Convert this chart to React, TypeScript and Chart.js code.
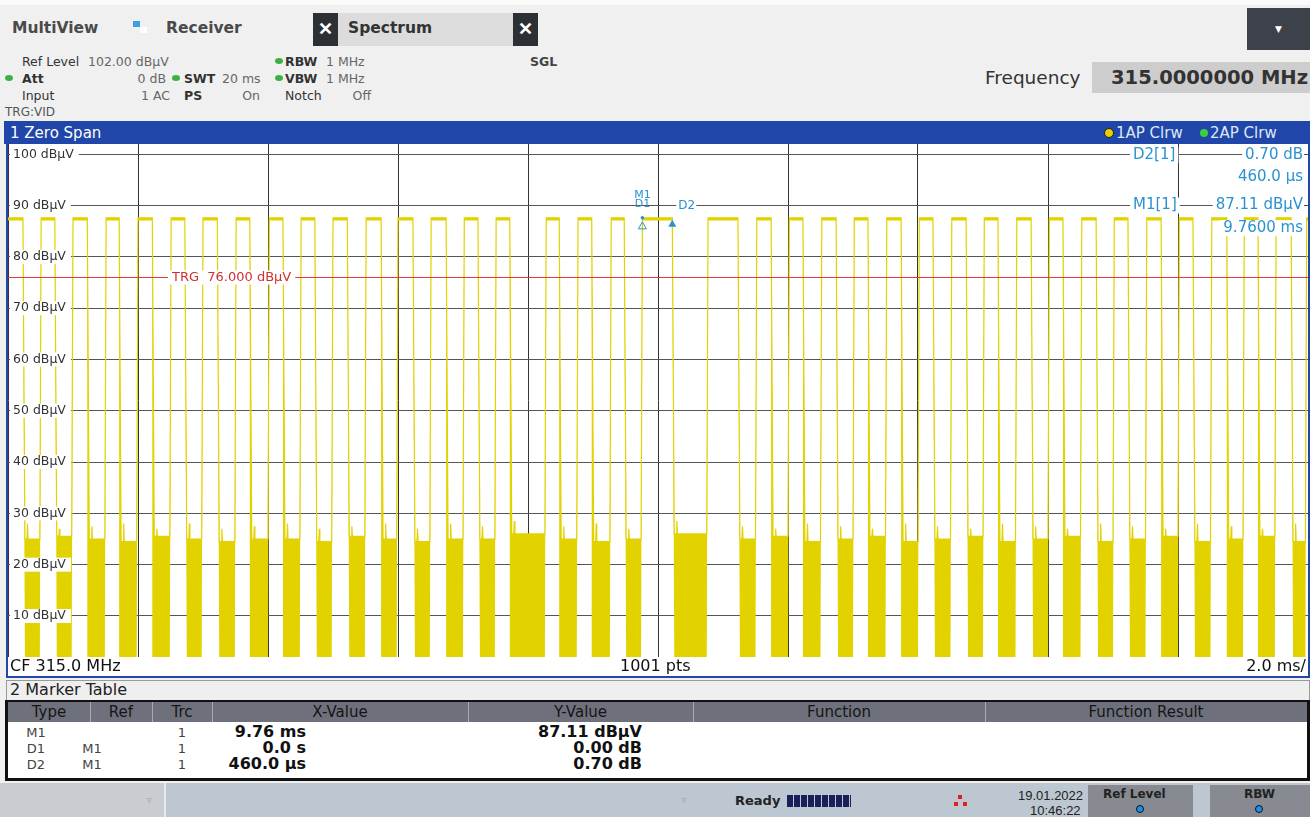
import React, { useEffect, useRef } from "react";
import { Chart, registerables } from "chart.js";

Chart.register(...registerables);

// ---------------- data ----------------
const sweepStartMs = 0;
const sweepStopMs = 20;
const refLevelDb = 102;
const bottomLevelDb = 2;
const sampleMs = 0.02; // 1001 pts over 20 ms

const xGridMs = [0, 2, 4, 6, 8, 10, 12, 14, 16, 18, 20];
const yGridDb = [100, 90, 80, 70, 60, 50, 40, 30, 20, 10];
const yTickLabels = ["100 dBµV", "90 dBµV", "80 dBµV", "70 dBµV", "60 dBµV", "50 dBµV", "40 dBµV", "30 dBµV", "20 dBµV", "10 dBµV"];

// pulse on / off times (ms)
const pulseStartMs = [0.0, 0.51, 1.0, 1.51, 2.0, 2.51, 3.0, 3.51, 4.02, 4.51, 5.0, 5.51, 6.0, 6.51, 7.02, 7.51, 8.28, 8.77, 9.28, 9.76, 10.77, 11.52, 12.02, 12.52, 13.02, 13.52, 14.02, 14.52, 15.02, 15.52, 16.02, 16.52, 17.02, 17.52, 18.02, 18.52, 19.02, 19.51, 19.98];
const pulseEndMs = [0.23, 0.72, 1.22, 1.71, 2.22, 2.72, 3.22, 3.72, 4.23, 4.72, 5.22, 5.74, 6.23, 6.74, 7.23, 7.72, 8.48, 8.98, 9.48, 10.22, 11.23, 11.74, 12.23, 12.74, 13.23, 13.74, 14.23, 14.74, 15.23, 15.74, 16.23, 16.74, 17.23, 17.74, 18.23, 18.75, 19.23, 19.74, 20.0];
// falling edges drawn as a full min/max column (1) or a thin line (0)
const pulseBoldFall = [0, 0, 1, 1, 1, 0, 0, 1, 1, 0, 0, 1, 0, 1, 0, 1, 1, 1, 0, 0, 0, 1, 1, 0, 1, 1, 0, 0, 1, 0, 1, 0, 0, 1, 0, 1, 1, 0, 0];
const pulseHighMaxDb = 87.6;
const pulseHighMinDb = 87.1;
// noise between pulses (auto peak max): plateau and spike, dBµV
const gapNoiseTopDb = [25, 25.5, 25, 24.5, 25.5, 25, 24.5, 25, 25, 24.5, 25.5, 25, 24.5, 25, 25, 26, 25, 24.5, 25, 26, 25, 25.5, 24.5, 25, 25.5, 24.5, 25, 25.5, 24.5, 25, 25.5, 24.5, 25, 25.5, 24.5, 25, 25.5, 24.5];
const gapNoisePeakDb = [28, 27, 27.5, 28, 27, 28, 27, 27.5, 28, 27, 27.5, 28, 27, 28, 27.5, 28.5, 27.5, 28, 27, 28.5, 27.5, 27, 28, 27.5, 27, 28, 27.5, 27, 28, 27.5, 27, 28, 27.5, 27, 28, 27.5, 27, 28];
const noiseFloorDb = 2;

const triggerDb = 76;
const markerM1 = { ms: 9.76, db: 87.11 };
const markerD2 = { ms: 10.22, db: 87.81 };

const TRACE = "#e2d200";
const MARK = "#2b92d2";
const UI = '"DejaVu Sans", Verdana, sans-serif';
const LS = '"Liberation Sans", Arial, sans-serif';
const VF = '"DejaVu Sans", Verdana, sans-serif';

function buildTrace() {
  const maxPts: { x: number; y: number }[] = [];
  const minPts: { x: number; y: number }[] = [];
  for (let i = 0; i < pulseStartMs.length; i++) {
    const s = pulseStartMs[i];
    const e = pulseEndMs[i];
    maxPts.push({ x: s, y: pulseHighMaxDb });
    minPts.push({ x: s, y: pulseHighMinDb });
    maxPts.push({ x: e, y: pulseHighMaxDb });
    minPts.push({ x: e, y: pulseHighMinDb });
    if (pulseBoldFall[i]) minPts.push({ x: e, y: noiseFloorDb });
    if (i < gapNoiseTopDb.length) {
      const g0 = e + sampleMs * 1.5;
      const g1 = pulseStartMs[i + 1] - sampleMs;
      const gp = g0 + sampleMs * 2;
      maxPts.push({ x: g0, y: gapNoiseTopDb[i] });
      maxPts.push({ x: gp - sampleMs * 0.4, y: gapNoiseTopDb[i] });
      maxPts.push({ x: gp, y: gapNoisePeakDb[i] });
      maxPts.push({ x: gp + sampleMs * 0.4, y: gapNoiseTopDb[i] });
      maxPts.push({ x: g1, y: gapNoiseTopDb[i] });
      minPts.push({ x: g0, y: noiseFloorDb });
      minPts.push({ x: g1, y: noiseFloorDb });
    }
  }
  return { maxPts, minPts };
}

const overlayPlugin = {
  id: "overlay",
  afterDatasetsDraw(chart: any) {
    const { ctx, scales } = chart;
    const xs = scales.x;
    const ys = scales.y;
    const W = chart.width;
    ctx.save();
    // trigger line
    const ty = Math.round(ys.getPixelForValue(triggerDb)) + 0.5;
    ctx.strokeStyle = "#e23a3a";
    ctx.lineWidth = 1;
    ctx.beginPath();
    ctx.moveTo(0, ty);
    ctx.lineTo(W, ty);
    ctx.stroke();
    ctx.font = `13px ${VF}`;
    ctx.textBaseline = "middle";
    const trg = "TRG  76.000 dBµV";
    const tw = ctx.measureText(trg).width;
    ctx.fillStyle = "#fff";
    ctx.fillRect(160, ty - 7, tw + 8, 14);
    ctx.fillStyle = "#d03030";
    ctx.fillText(trg, 164, ty);

    // y labels
    ctx.font = `12.5px ${VF}`;
    yGridDb.forEach((v, i) => {
      const y = ys.getPixelForValue(v);
      const w = ctx.measureText(yTickLabels[i]).width;
      ctx.fillStyle = "#fff";
      ctx.fillRect(2, y - 7, w + 8, 14);
      ctx.fillStyle = "#333";
      ctx.fillText(yTickLabels[i], 5, y);
    });

    // markers
    const mx = xs.getPixelForValue(markerM1.ms);
    const my = ys.getPixelForValue(pulseHighMaxDb);
    ctx.fillStyle = MARK;
    ctx.strokeStyle = MARK;
    ctx.beginPath();
    ctx.arc(mx, my, 1.8, 0, Math.PI * 2);
    ctx.fill();
    ctx.lineWidth = 1;
    ctx.beginPath();
    ctx.moveTo(mx, my + 4);
    ctx.lineTo(mx - 4, my + 11);
    ctx.lineTo(mx + 4, my + 11);
    ctx.closePath();
    ctx.stroke();
    ctx.font = `11px ${VF}`;
    ctx.textAlign = "center";
    ctx.fillText("M1", mx, my - 23);
    ctx.fillText("D1", mx, my - 14);
    const dx = xs.getPixelForValue(markerD2.ms);
    const dy = ys.getPixelForValue(pulseHighMaxDb);
    ctx.beginPath();
    ctx.moveTo(dx, dy + 2);
    ctx.lineTo(dx - 4, dy + 9);
    ctx.lineTo(dx + 4, dy + 9);
    ctx.closePath();
    ctx.fill();
    ctx.font = `12px ${VF}`;
    ctx.textAlign = "left";
    const d2y = ys.getPixelForValue(90);
    ctx.fillStyle = "#fff";
    ctx.fillRect(dx + 4, d2y - 6, 20, 12);
    ctx.fillStyle = MARK;
    ctx.fillText("D2", dx + 6, d2y);

    // marker info
    ctx.font = `15px ${VF}`;
    const info: [string, string][] = [
      ["D2[1]", "0.70 dB"],
      ["", "460.0 µs"],
      ["M1[1]", "87.11 dBµV"],
      ["", "9.7600 ms"],
    ];
    const rowsY = [ys.getPixelForValue(99.8), ys.getPixelForValue(95.6), ys.getPixelForValue(90), ys.getPixelForValue(85.6)];
    info.forEach((r, i) => {
      const y = rowsY[i];
      ctx.textAlign = "right";
      const vw = ctx.measureText(r[1]).width;
      ctx.fillStyle = "#fff";
      ctx.fillRect(W - 5 - vw - 3, y - 8, vw + 4, 16);
      ctx.fillStyle = MARK;
      ctx.fillText(r[1], W - 5, y);
      if (r[0]) {
        ctx.textAlign = "left";
        const lw = ctx.measureText(r[0]).width;
        ctx.fillStyle = "#fff";
        ctx.fillRect(1122, y - 8, lw + 6, 16);
        ctx.fillStyle = MARK;
        ctx.fillText(r[0], 1125, y);
      }
    });
    ctx.restore();
  },
};

function TraceChart() {
  const ref = useRef<HTMLCanvasElement | null>(null);
  useEffect(() => {
    if (!ref.current) return;
    const { maxPts, minPts } = buildTrace();
    const chart = new Chart(ref.current, {
      type: "line",
      data: {
        datasets: [
          {
            data: maxPts,
            borderColor: TRACE,
            backgroundColor: TRACE,
            borderWidth: 1.2,
            pointRadius: 0,
            fill: "+1",
            tension: 0,
          },
          {
            data: minPts,
            borderColor: TRACE,
            backgroundColor: TRACE,
            borderWidth: 0,
            pointRadius: 0,
            fill: false,
            tension: 0,
          },
        ],
      },
      options: {
        animation: false,
        responsive: false,
        maintainAspectRatio: false,
        layout: { padding: 0 },
        plugins: { legend: { display: false }, tooltip: { enabled: false } },
        scales: {
          x: {
            type: "linear",
            min: sweepStartMs,
            max: sweepStopMs,
            afterBuildTicks: (s: any) => {
              s.ticks = xGridMs.map((v) => ({ value: v }));
            },
            ticks: { display: false },
            grid: { color: "#333333", drawTicks: false, lineWidth: 1 },
            border: { display: false },
          },
          y: {
            type: "linear",
            min: bottomLevelDb,
            max: refLevelDb,
            afterBuildTicks: (s: any) => {
              s.ticks = yGridDb.map((v) => ({ value: v }));
            },
            ticks: { display: false },
            grid: { color: "#555555", drawTicks: false, lineWidth: 1 },
            border: { display: false },
          },
        },
      },
      plugins: [overlayPlugin],
    });
    return () => chart.destroy();
  }, []);
  return <canvas ref={ref} width={1300} height={513} style={{ width: 1300, height: 513, display: "block" }} />;
}

function T(props: { x?: number; rx?: number; cy: number; fs: number; children: any; style?: any }) {
  const { x, rx, cy, fs, children, style } = props;
  const s: any = {
    position: "absolute",
    top: cy - fs * 0.6,
    fontSize: fs,
    lineHeight: `${fs * 1.2}px`,
    whiteSpace: "nowrap",
    fontFamily: UI,
    color: "#333",
    ...style,
  };
  if (rx !== undefined) s.right = 1310 - rx;
  else s.left = x;
  return <div style={s}>{children}</div>;
}

function Dot({ x, cy, c }: { x: number; cy: number; c: string }) {
  return <div style={{ position: "absolute", left: x - 4, top: cy - 3, width: 8, height: 6, borderRadius: "50%", background: c }} />;
}

function Box(p: { x: number; y: number; w: number; h: number; style?: any; children?: any }) {
  return <div style={{ position: "absolute", left: p.x, top: p.y, width: p.w, height: p.h, ...p.style }}>{p.children}</div>;
}

const tableCols = [
  { name: "Type", x0: 8, x1: 90 },
  { name: "Ref", x0: 90, x1: 152 },
  { name: "Trc", x0: 152, x1: 212 },
  { name: "X-Value", x0: 212, x1: 468 },
  { name: "Y-Value", x0: 468, x1: 693 },
  { name: "Function", x0: 693, x1: 985 },
  { name: "Function Result", x0: 985, x1: 1307 },
];
const tableType = ["M1", "D1", "D2"];
const tableRef = ["", "M1", "M1"];
const tableTrc = ["1", "1", "1"];
const tableX = ["9.76 ms", "0.0 s", "460.0 µs"];
const tableY = ["87.11 dBµV", "0.00 dB", "0.70 dB"];

export default function App() {
  useEffect(() => {
    document.body.style.margin = "0";
  }, []);
  const green = "#3cb043";
  const fs = 12.5;
  return (
    <div style={{ position: "fixed", left: 0, top: 0, width: 1310, height: 817, background: "#f0f0f0", overflow: "hidden", fontFamily: UI }}>
      {/* top strip */}
      <Box x={0} y={0} w={1310} h={5} style={{ background: "#fafafa" }} />
      <T x={12} cy={28} fs={15.5} style={{ fontWeight: "bold", color: "#4a4a4a" }}>MultiView</T>
      <Box x={133} y={21} w={7} h={6} style={{ background: "#3aa0e0" }} />
      <Box x={140} y={27} w={7} h={6} style={{ background: "#ffffff" }} />
      <T x={166} cy={28} fs={15.5} style={{ fontWeight: "bold", color: "#4a4a4a" }}>Receiver</T>
      <Box x={313} y={13} w={25} h={33} style={{ background: "#2c2f34", color: "#fff", fontWeight: "bold", fontSize: 18, textAlign: "center", lineHeight: "32px", fontFamily: LS }}>✕</Box>
      <Box x={338} y={13} w={175} h={33} style={{ background: "#dcdcdc" }} />
      <T x={348} cy={28} fs={15.5} style={{ fontWeight: "bold", color: "#333" }}>Spectrum</T>
      <Box x={513} y={13} w={25} h={33} style={{ background: "#2c2f34", color: "#fff", fontWeight: "bold", fontSize: 18, textAlign: "center", lineHeight: "32px", fontFamily: LS }}>✕</Box>
      <Box x={1247} y={8} w={63} h={42} style={{ background: "#3d4149", color: "#fff", fontSize: 9, textAlign: "center", lineHeight: "42px" }}>▼</Box>

      {/* settings */}
      <T x={22} cy={61} fs={fs} style={{ color: "#333" }}>Ref Level</T>
      <T x={88} cy={61} fs={fs} style={{ color: "#666" }}>102.00 dBµV</T>
      <Dot x={279} cy={61} c={green} />
      <T x={285} cy={61} fs={fs} style={{ fontWeight: "bold", color: "#333" }}>RBW</T>
      <T x={326} cy={61} fs={fs} style={{ color: "#666" }}>1 MHz</T>
      <T x={530} cy={61} fs={fs} style={{ fontWeight: "bold", color: "#444" }}>SGL</T>

      <Dot x={9} cy={78} c={green} />
      <T x={22} cy={78} fs={fs} style={{ fontWeight: "bold", color: "#333" }}>Att</T>
      <T rx={166} cy={78} fs={fs} style={{ color: "#666" }}>0 dB</T>
      <Dot x={176} cy={78} c={green} />
      <T x={184} cy={78} fs={fs} style={{ fontWeight: "bold", color: "#333" }}>SWT</T>
      <T x={222} cy={78} fs={fs} style={{ color: "#666" }}>20 ms</T>
      <Dot x={279} cy={78} c={green} />
      <T x={285} cy={78} fs={fs} style={{ fontWeight: "bold", color: "#333" }}>VBW</T>
      <T x={326} cy={78} fs={fs} style={{ color: "#666" }}>1 MHz</T>

      <T x={22} cy={95} fs={fs} style={{ color: "#333" }}>Input</T>
      <T rx={170} cy={95} fs={fs} style={{ color: "#666" }}>1 AC</T>
      <T x={184} cy={95} fs={fs} style={{ fontWeight: "bold", color: "#333" }}>PS</T>
      <T rx={260} cy={95} fs={fs} style={{ color: "#666" }}>On</T>
      <T x={285} cy={95} fs={fs} style={{ color: "#333" }}>Notch</T>
      <T rx={371} cy={95} fs={fs} style={{ color: "#666" }}>Off</T>
      <T x={5} cy={112} fs={12} style={{ color: "#555" }}>TRG:VID</T>

      <T x={985} cy={78} fs={18.5} style={{ color: "#333" }}>Frequency</T>
      <Box x={1092} y={62} w={218} h={31} style={{ background: "#cdcdcd" }} />
      <T rx={1308} cy={78} fs={19.5} style={{ color: "#333", fontFamily: VF, fontWeight: "bold" }}>315.0000000 MHz</T>

      {/* window 1 */}
      <Box x={6} y={121} w={1304} h={557} style={{ background: "#ffffff", borderLeft: "2px solid #2148a8", borderRight: "2px solid #2148a8", borderBottom: "2px solid #2148a8", boxSizing: "border-box" }} />
      <Box x={4} y={121} w={1306} h={23} style={{ background: "#1f46a8" }} />
      <T x={10} cy={133} fs={15} style={{ color: "#fff" }}>1 Zero Span</T>
      <Box x={1104} y={128} w={10} h={10} style={{ background: "#e4d000", borderRadius: "50%", border: "1.5px solid #222", boxSizing: "border-box" }} />
      <T x={1116} cy={133} fs={15} style={{ color: "#dfe6f5" }}>1AP Clrw</T>
      <Box x={1200} y={129} w={8} h={8} style={{ background: "#3ccc3c", borderRadius: "50%" }} />
      <T x={1210} cy={133} fs={15} style={{ color: "#dfe6f5" }}>2AP Clrw</T>

      <div style={{ position: "absolute", left: 8, top: 144, width: 1300, height: 513 }}>
        <TraceChart />
      </div>
      <T x={10} cy={666} fs={16} style={{ color: "#111" }}>CF 315.0 MHz</T>
      <T x={620} cy={666} fs={16} style={{ color: "#111" }}>1001 pts</T>
      <T rx={1306} cy={666} fs={16} style={{ color: "#111" }}>2.0 ms/</T>

      {/* marker table */}
      <Box x={6} y={680} w={1304} h={21} style={{ background: "#efefef", border: "1px solid #9a9a9a", boxSizing: "border-box" }} />
      <T x={10} cy={690} fs={16} style={{ color: "#222" }}>2 Marker Table</T>
      <Box x={5} y={700} w={1305} h={81} style={{ background: "#fff", borderLeft: "3px solid #111", borderRight: "3px solid #111", borderBottom: "3px solid #111", borderTop: "2px solid #111", boxSizing: "border-box" }} />
      <Box x={8} y={702} w={1299} h={20} style={{ background: "#6e717c" }} />
      {tableCols.map((c, i) => (
        <React.Fragment key={c.name}>
          {i > 0 && <Box x={c.x0} y={702} w={1} h={20} style={{ background: "#a7aab2" }} />}
          <div style={{ position: "absolute", left: c.x0, width: c.x1 - c.x0, top: 702, height: 20, lineHeight: "20px", textAlign: "center", fontSize: 15, color: "#151515", fontFamily: UI }}>{c.name}</div>
        </React.Fragment>
      ))}
      {tableType.map((t, i) => {
        const cy = 733 + i * 16;
        return (
          <React.Fragment key={t}>
            <div style={{ position: "absolute", left: 8, width: 56, top: cy - 8, fontSize: 13, lineHeight: "16px", textAlign: "center", color: "#444" }}>{t}</div>
            <div style={{ position: "absolute", left: 64, width: 56, top: cy - 8, fontSize: 13, lineHeight: "16px", textAlign: "center", color: "#444" }}>{tableRef[i]}</div>
            <div style={{ position: "absolute", left: 152, width: 60, top: cy - 8, fontSize: 13, lineHeight: "16px", textAlign: "center", color: "#444" }}>{tableTrc[i]}</div>
            <div style={{ position: "absolute", right: 1310 - 306, top: cy - 10, fontSize: 16, lineHeight: "18px", fontWeight: "bold", color: "#111", fontFamily: VF }}>{tableX[i]}</div>
            <div style={{ position: "absolute", right: 1310 - 642, top: cy - 10, fontSize: 16, lineHeight: "18px", fontWeight: "bold", color: "#111", fontFamily: VF }}>{tableY[i]}</div>
          </React.Fragment>
        );
      })}

      {/* status bar */}
      <Box x={0} y={783} w={1310} h={34} style={{ background: "#bcc7d2" }} />
      <Box x={0} y={783} w={164} h={34} style={{ background: "#c9ccd0" }} />
      <Box x={164} y={783} w={2} h={34} style={{ background: "#e6eaee" }} />
      <T x={147} cy={800} fs={9} style={{ color: "#999" }}>▿</T>
      <T x={682} cy={800} fs={9} style={{ color: "#999" }}>▿</T>
      <T x={735} cy={801} fs={13} style={{ fontWeight: "bold", color: "#222" }}>Ready</T>
      <Box x={787} y={795} w={64} h={12} style={{ background: "repeating-linear-gradient(90deg, #1a1f5a 0 6px, #bcc7d2 6px 7px)" }} />
      <Box x={958} y={795} w={4} h={4} style={{ background: "#e02020" }} />
      <Box x={954} y={802} w={4} h={4} style={{ background: "#e02020" }} />
      <Box x={963} y={802} w={4} h={4} style={{ background: "#e02020" }} />
      <T x={1018} cy={796} fs={13} style={{ color: "#222", fontFamily: LS }}>19.01.2022</T>
      <T x={1030} cy={811} fs={13} style={{ color: "#222", fontFamily: LS }}>10:46:22</T>
      <Box x={1088} y={785} w={105} h={32} style={{ background: "#878b91" }} />
      <T x={1103} cy={794} fs={12} style={{ fontWeight: "bold", color: "#222" }}>Ref Level</T>
      <Box x={1136} y={805} w={8} h={8} style={{ background: "#1c8fe8", borderRadius: "50%", border: "1px solid #111", boxSizing: "border-box" }} />
      <Box x={1210} y={785} w={100} h={32} style={{ background: "#878b91" }} />
      <T x={1244} cy={794} fs={12} style={{ fontWeight: "bold", color: "#222" }}>RBW</T>
      <Box x={1255} y={805} w={8} h={8} style={{ background: "#1c8fe8", borderRadius: "50%", border: "1px solid #111", boxSizing: "border-box" }} />
    </div>
  );
}
